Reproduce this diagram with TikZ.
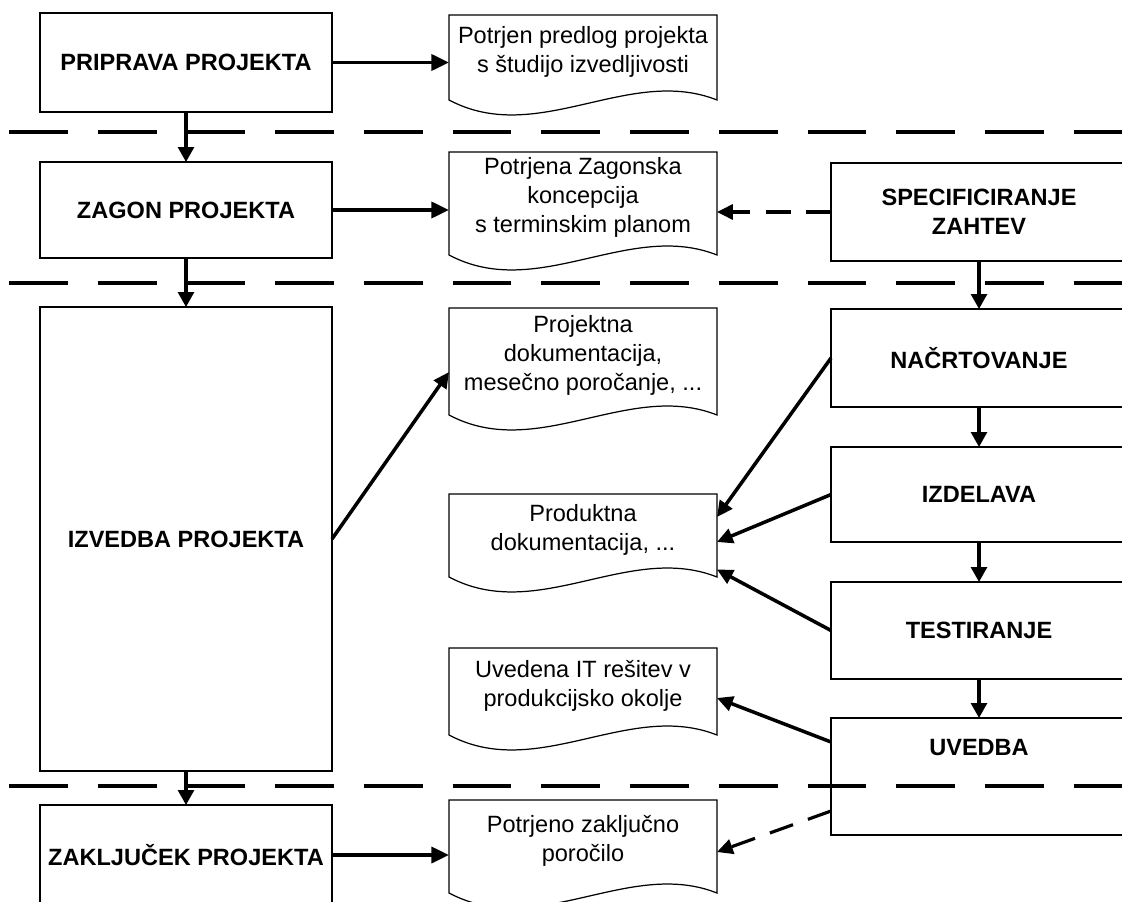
\documentclass[tikz,border=0pt]{standalone}
\usepackage{fontspec}
\setmainfont{Liberation Sans}
\usetikzlibrary{calc}
\usetikzlibrary{arrows.meta}

% outline of a document node: straight top and sides, wavy bottom
\newcommand{\docshape}[1]{%
  \draw[docline] ($(#1.north west)+(0,12)$) -- ($(#1.north east)+(0,12)$) -- (#1.south east)
    .. controls ($(#1.south west)!0.67!(#1.south east)+(0,-35)$) and ($(#1.south west)!0.33!(#1.south east)+(0,47)$) .. (#1.south west) -- cycle;}

\begin{document}
\begin{tikzpicture}[x=0.02cm, y=-0.02cm,
  txt/.style={font={\fontsize{13.4}{16.5}\selectfont}},
  phase/.style={draw, line width=0.7pt, minimum width=5.84cm, inner sep=2pt, outer sep=0pt,
    align=center, font={\fontsize{13.4}{16.5}\selectfont\bfseries}},
  task/.style={phase, minimum width=5.92cm},
  doc/.style={txt, minimum width=5.36cm, inner sep=2pt, outer sep=0pt, align=center},
  docline/.style={line width=0.7pt},
  sep/.style={line width=2.5pt, dash pattern=on 33.5pt off 17pt},
  flow/.style={line width=2.2pt, -{Triangle[length=10pt,width=9pt]}},
  down/.style={line width=1.8pt, -{Triangle[length=8.5pt,width=9pt]}},
  feed/.style={line width=2pt, -{Triangle[length=9pt,width=8.5pt]}},
  hint/.style={line width=1.8pt, dash pattern=on 14pt off 9pt, -{Triangle[length=9pt,width=8.5pt]}}]

\useasboundingbox (0,0) rectangle (1122,902);

% project phases
\node[phase, minimum height=1.98cm] (pripr) at (186,62.5) {PRIPRAVA PROJEKTA};
\node[phase, minimum height=1.92cm] (zagon) at (186,210) {ZAGON PROJEKTA};
\node[phase, minimum height=9.28cm] (izved) at (186,539) {IZVEDBA PROJEKTA};
\node[phase, minimum height=2cm] (zaklj) at (186,855) {ZAKLJUČEK PROJEKTA};

% development tasks
\node[task, minimum height=1.96cm] (spec) at (979,212) {SPECIFICIRANJE\\ZAHTEV};
\node[task, minimum height=1.96cm] (nacrt) at (979,358) {NAČRTOVANJE};
\node[task, minimum height=1.9cm] (izdel) at (979,494.5) {IZDELAVA};
\node[task, minimum height=1.94cm] (test) at (979,630.5) {TESTIRANJE};
\node[task, minimum height=2.34cm, text depth=33.5pt] (uved) at (979,776.5) {UVEDBA};

% documents
\node[doc, minimum height=1.94cm] (d1) at (583,51.5) {Potrjen predlog projekta\\s študijo izvedljivosti};
\node[doc, minimum height=2.3cm] (d2) at (583,197.5) {Potrjena Zagonska\\koncepcija\\s terminskim planom};
\node[doc, minimum height=2.38cm] (d3) at (583,355.5) {Projektna\\dokumentacija,\\mesečno poročanje, ...};
\node[doc, minimum height=1.9cm] (d4) at (583,529.5) {Produktna\\dokumentacija, ...};
\node[doc, minimum height=1.98cm] (d5) at (583,685.5) {Uvedena IT rešitev v\\produkcijsko okolje};
\node[doc, minimum height=2.1cm] (d6) at (583,840.5) {Potrjeno zaključno\\poročilo};
\docshape{d1}
\docshape{d2}
\docshape{d3}
\docshape{d4}
\docshape{d5}
\docshape{d6}

% phase borders
\coordinate (s1a) at (9,132);
\coordinate (s1b) at (1130,132);
\coordinate (s2a) at (9,283);
\coordinate (s2b) at (1130,283);
\coordinate (s3a) at (9,786);
\coordinate (s3b) at (1130,786);
\draw[sep] (s1a) -- (s1b);
\draw[sep] (s2a) -- (s2b);
\draw[sep] (s3a) -- (s3b);

% sequence
\draw[down] (pripr) -- (zagon);
\draw[down] (zagon) -- (izved);
\draw[down] (izved) -- (zaklj);
\draw[down] (spec) -- (nacrt);
\draw[down] (nacrt) -- (izdel);
\draw[down] (izdel) -- (test);
\draw[down] (test) -- (uved);

% results
\draw[flow] (pripr.east) -- (pripr.east -| d1.west);
\draw[flow] (zagon.east) -- (zagon.east -| d2.west);
\draw[flow] (zaklj.east) -- (zaklj.east -| d6.west);
\draw[hint] (spec.west) -- (spec.west -| d2.east);
\draw[feed] (izved.east) -- ($(d3.west)+(0,16.5)$);
\draw[feed] (nacrt.west) -- ($(d4.east)+(0,-12.5)$);
\draw[feed] (izdel.west) -- ($(d4.east)+(0,12.5)$);
\draw[feed] (test.west) -- ($(d4.east)+(0,40)$);
\draw[feed] ($(uved.west)+(0,-34.5)$) -- ($(d5.east)+(0,12.5)$);
\draw[hint] ($(uved.west)+(0,34.5)$) -- ($(d6.east)+(0,11.5)$);

\end{tikzpicture}
\end{document}
